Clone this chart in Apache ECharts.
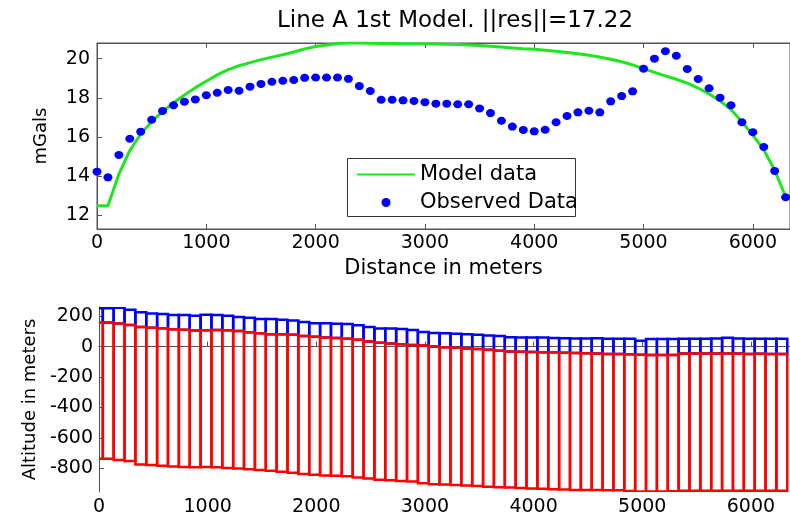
<!DOCTYPE html>
<html>
<head>
<meta charset="utf-8">
<script src="https://cdn.jsdelivr.net/npm/echarts@6/dist/echarts.min.js"></script>
<style>
  html, body { margin: 0; padding: 0; background: #fff; }
  #chart { width: 790px; height: 521px; }
</style>
</head>
<body>
<div id="chart"></div>
<script>
// ---- data ----
const chartTitle = 'Line A 1st Model. ||res||=17.22';

const distance = [0, 100, 200, 300, 400, 500, 600, 700, 800, 900,
  1000, 1100, 1200, 1300, 1400, 1500, 1600, 1700, 1800, 1900,
  2000, 2100, 2200, 2300, 2400, 2500, 2600, 2700, 2800, 2900,
  3000, 3100, 3200, 3300, 3400, 3500, 3600, 3700, 3800, 3900,
  4000, 4100, 4200, 4300, 4400, 4500, 4600, 4700, 4800, 4900,
  5000, 5100, 5200, 5300, 5400, 5500, 5600, 5700, 5800, 5900,
  6000, 6100, 6200, 6300];

const modelGravity = [12.49, 12.49, 14.1, 15.3, 16.15, 16.78, 17.29, 17.75, 18.14, 18.52,
  18.85, 19.17, 19.44, 19.64, 19.80, 19.95, 20.08, 20.20, 20.34, 20.50,
  20.62, 20.70, 20.77, 20.80, 20.80, 20.79, 20.78, 20.77, 20.76, 20.76,
  20.76, 20.75, 20.74, 20.72, 20.70, 20.67, 20.63, 20.59, 20.55, 20.51,
  20.48, 20.43, 20.38, 20.32, 20.25, 20.17, 20.08, 19.97, 19.84, 19.68,
  19.49, 19.30, 19.12, 18.95, 18.75, 18.50, 18.20, 17.85, 17.40, 16.78,
  16.10, 15.35, 14.30, 12.95];

const observedGravity = [14.23, 13.94, 15.08, 15.91, 16.27, 16.88, 17.33, 17.62, 17.80, 17.92,
  18.13, 18.26, 18.40, 18.36, 18.57, 18.71, 18.82, 18.87, 18.91, 19.02,
  19.04, 19.04, 19.04, 18.97, 18.60, 18.35, 17.90, 17.90, 17.87, 17.84,
  17.78, 17.70, 17.70, 17.67, 17.67, 17.46, 17.22, 16.83, 16.53, 16.36,
  16.29, 16.37, 16.75, 17.07, 17.26, 17.34, 17.26, 17.82, 18.09, 18.33,
  19.49, 20.00, 20.38, 20.15, 19.47, 18.96, 18.49, 18.01, 17.62, 16.75,
  16.24, 15.49, 14.26, 12.92];

// topography (top of blue prisms)
const surfaceTop = [251, 251, 255, 242, 225, 218, 214, 207, 207, 203,
  209, 207, 203, 194, 190, 181, 181, 177, 172, 161,
  153, 153, 150, 148, 140, 129, 118, 118, 116, 109,
  96, 90, 88, 85, 81, 77, 73, 69, 62, 59,
  59, 60, 57, 55, 53, 53, 54, 52, 52, 52,
  39, 50, 50, 50, 52, 52, 52, 53, 58, 53,
  52, 52, 52, 52];

// top of red prisms (bottom of blue prisms)
const layerTop = [159, 159, 151, 142, 129, 124, 120, 114, 111, 105,
  107, 109, 107, 103, 94, 87, 81, 81, 77, 70,
  64, 60, 57, 52, 45, 34, 26, 20, 15, 11,
  7, 0, -4, -7, -12, -16, -20, -27, -32, -34,
  -36, -37, -38, -40, -42, -44, -46, -48, -48, -50,
  -54, -56, -56, -55, -46, -46, -46, -46, -46, -46,
  -48, -47, -48, -48];

// bottom of red prisms
const layerBottom = [-737, -737, -745, -752, -774, -778, -782, -787, -791, -793,
  -791, -793, -798, -800, -806, -810, -815, -822, -828, -837,
  -842, -846, -849, -851, -859, -867, -874, -878, -883, -886,
  -898, -904, -905, -909, -912, -915, -920, -923, -926, -929,
  -932, -933, -937, -939, -942, -942, -942, -944, -944, -948,
  -952, -952, -952, -950, -946, -946, -946, -946, -946, -946,
  -946, -946, -946, -946];

const seriesNames = ['Model data', 'Observed Data'];

// ---- build options ----
const FONT = 'DejaVu Sans';
const AXIS_COLOR = '#555';
const prismHalfWidth = 50;
const prismShift = -15;

function pairs(ys) { return distance.map((d, i) => [d, ys[i]]); }
function triples(tops, bottoms) { return distance.map((d, i) => [d, tops[i], bottoms[i]]); }

function prismRenderer(color) {
  return function (params, api) {
    const x = api.value(0);
    const p1 = api.coord([x - prismHalfWidth + prismShift, api.value(1)]);
    const p2 = api.coord([x + prismHalfWidth + prismShift, api.value(2)]);
    return {
      type: 'rect',
      shape: { x: p1[0], y: p1[1], width: p2[0] - p1[0], height: p2[1] - p1[1] },
      style: { fill: 'none', stroke: color, lineWidth: 2.5 }
    };
  };
}

const plain = v => String(v);
const axisLineStyle = { show: true, lineStyle: { color: AXIS_COLOR, width: 1 } };
const tickStyle = { show: true, inside: true, length: 5, lineStyle: { color: AXIS_COLOR } };
const labelStyle = { color: '#000', fontFamily: FONT, fontSize: 19, formatter: plain };

const option = {
  animation: false,
  backgroundColor: '#fff',
  title: {
    text: chartTitle,
    left: 450,
    top: 5,
    textAlign: 'center',
    textStyle: { fontFamily: FONT, fontSize: 23, fontWeight: 'normal', color: '#000' }
  },
  graphic: [{
    type: 'rect',
    z: 3,
    shape: { x: 347.5, y: 158.5, width: 228, height: 58 },
    style: { fill: '#fff', stroke: '#333', lineWidth: 1 }
  }],
  legend: {
    z: 5,
    orient: 'vertical',
    left: 356,
    top: 164,
    itemWidth: 58,
    itemHeight: 9,
    itemGap: 7,
    padding: 0,
    textStyle: { fontFamily: FONT, fontSize: 21, color: '#000', lineHeight: 20 },
    data: [
      { name: seriesNames[0], itemStyle: { opacity: 0 } },
      { name: seriesNames[1], icon: 'circle' }
    ]
  },
  grid: [
    { left: 97, top: 43, width: 694, height: 186, show: true, borderColor: AXIS_COLOR, borderWidth: 1, backgroundColor: 'transparent' },
    { left: 99, top: 307, width: 692, height: 185 }
  ],
  xAxis: [
    {
      gridIndex: 0, type: 'value', min: 0, max: 6340, interval: 1000,
      name: 'Distance in meters', nameLocation: 'middle', nameGap: 29,
      nameTextStyle: { fontFamily: FONT, fontSize: 21, color: '#000' },
      axisLine: axisLineStyle, axisTick: tickStyle,
      axisLabel: Object.assign({ margin: 5, showMaxLabel: false }, labelStyle),
      splitLine: { show: false }
    },
    {
      gridIndex: 0, type: 'value', position: 'top', min: 0, max: 6340, interval: 1000,
      axisLine: axisLineStyle, axisTick: tickStyle,
      axisLabel: { show: false }, splitLine: { show: false }
    },
    {
      gridIndex: 1, type: 'value', min: 0, max: 6360, interval: 1000,
      axisLine: axisLineStyle, axisTick: tickStyle,
      axisLabel: Object.assign({ margin: 6, showMaxLabel: false }, labelStyle),
      splitLine: { show: false }
    }
  ],
  yAxis: [
    {
      gridIndex: 0, type: 'value', min: 11.3, max: 20.8, splitNumber: 5,
      name: 'mGals', nameLocation: 'middle', nameGap: 47,
      nameTextStyle: { fontFamily: FONT, fontSize: 18, color: '#000' },
      axisLine: axisLineStyle, axisTick: tickStyle,
      axisLabel: Object.assign({ margin: 7, showMinLabel: false, showMaxLabel: false }, labelStyle),
      splitLine: { show: false }
    },
    {
      gridIndex: 1, type: 'value', min: -955, max: 260, splitNumber: 6,
      name: 'Altitude in meters', nameLocation: 'middle', nameGap: 53,
      nameTextStyle: { fontFamily: FONT, fontSize: 18, color: '#000' },
      axisLine: axisLineStyle, axisTick: tickStyle,
      axisLabel: Object.assign({ margin: 6, showMinLabel: false, showMaxLabel: false }, labelStyle),
      splitLine: { show: false }
    }
  ],
  series: [
    {
      name: seriesNames[0], type: 'line', xAxisIndex: 0, yAxisIndex: 0,
      data: pairs(modelGravity), symbol: 'none', showSymbol: false, smooth: false,
      color: '#1ee61e',
      lineStyle: { color: '#1ee61e', width: 3 }, z: 2
    },
    {
      name: seriesNames[1], type: 'scatter', xAxisIndex: 0, yAxisIndex: 0,
      data: pairs(observedGravity), symbol: 'circle', symbolSize: [9, 8],
      itemStyle: { color: '#0000ff', opacity: 1 }, z: 3
    },
    {
      name: 'Upper prisms', type: 'custom', xAxisIndex: 2, yAxisIndex: 1,
      clip: true, data: triples(surfaceTop, layerTop),
      encode: { x: 0, y: [1, 2] },
      renderItem: prismRenderer('#0000ff')
    },
    {
      name: 'Lower prisms', type: 'custom', xAxisIndex: 2, yAxisIndex: 1,
      clip: true, data: triples(layerTop, layerBottom),
      encode: { x: 0, y: [1, 2] },
      renderItem: prismRenderer('#ff0000')
    }
  ]
};

const chart = echarts.init(document.getElementById('chart'), null, { renderer: 'canvas' });
chart.setOption(option);
</script>
</body>
</html>
